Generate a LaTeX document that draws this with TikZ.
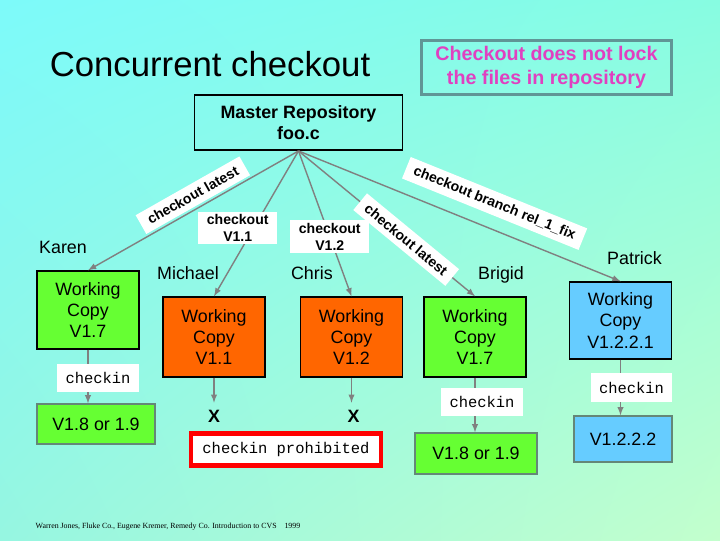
\documentclass[tikz,border=0pt]{standalone}
\usepackage{fontspec}
\setmainfont{Liberation Sans}
\setmonofont{Liberation Mono}
\newfontfamily\citefont{Liberation Serif}
\usepackage{tikz}
\usetikzlibrary{positioning,shadings}
\usetikzlibrary{arrows}
\definecolor{bgtl}{RGB}{125,250,250}
\definecolor{bgtr}{RGB}{135,252,225}
\definecolor{bgbl}{RGB}{150,246,225}
\definecolor{bgbr}{RGB}{195,255,205}
\definecolor{wcgreen}{RGB}{102,255,51}
\definecolor{wcorange}{RGB}{255,102,0}
\definecolor{wcblue}{RGB}{102,204,255}
\definecolor{notepink}{RGB}{224,64,192}
\definecolor{notegray}{RGB}{96,150,150}
\definecolor{linegray}{RGB}{128,128,128}
\definecolor{boxgray}{RGB}{100,135,120}

\begin{document}
\begin{tikzpicture}[x=0.025cm, y=-0.025cm]
\tikzstyle{wc}=[rectangle, draw=black, line width=1pt, align=center, font=\fontsize{12.7}{15.2}\selectfont, minimum width=2.55cm, minimum height=2cm, inner sep=0pt]
\tikzstyle{rev}=[rectangle, draw=boxgray, line width=1pt, font=\fontsize{12.7}{15}\selectfont, minimum height=1cm, inner sep=0pt]
\tikzstyle{connect}=[-latex, draw=linegray, line width=1pt]
\tikzstyle{lbl}=[fill=white, font=\bfseries\fontsize{10}{12}\selectfont, align=center, inner xsep=6pt, inner ysep=2pt]
\tikzstyle{slbl}=[lbl, sloped, inner ysep=4pt]
\tikzstyle{ci}=[fill=white, font=\ttfamily\fontsize{11}{12}\selectfont, inner xsep=6pt, inner ysep=6pt]
\tikzstyle{who}=[font=\fontsize{12.7}{15}\selectfont]
\tikzstyle{xmark}=[font=\bfseries\fontsize{12.7}{15}\selectfont, inner sep=0pt]
  \shade[upper left=bgtl, upper right=bgtr, lower left=bgbl, lower right=bgbr] (0,0) rectangle (720,540);
  \useasboundingbox (0,0) rectangle (720,540);

  \node[font=\fontsize{24.7}{28}\selectfont] (title) at (210,64) {Concurrent checkout};
  \node[draw=notegray, line width=1.5pt, text=notepink, align=center, font=\bfseries\fontsize{14}{17}\selectfont, minimum width=6.25cm, minimum height=1.35cm] (note) at (546.5,67.5) {Checkout does not lock\\the files in repository};
  \node[draw=black, line width=1.2pt, align=center, font=\bfseries\fontsize{12.7}{15}\selectfont, minimum width=5.2cm, minimum height=1.38cm] (master) at (298.5,122.5) {Master Repository\\foo.c};

  % working copies
  \node[wc, fill=wcgreen, minimum height=1.95cm] (karenwc) at (88,310) {Working\\Copy\\V1.7};
  \node[wc, fill=wcorange] (michaelwc) at (214,337) {Working\\Copy\\V1.1};
  \node[wc, fill=wcorange] (chriswc) at (351.5,337) {Working\\Copy\\V1.2};
  \node[wc, fill=wcgreen] (brigidwc) at (475,337) {Working\\Copy\\V1.7};
  \node[wc, fill=wcblue, minimum height=1.925cm] (patrickwc) at (620.5,320.5) {Working\\Copy\\V1.2.2.1};

  \node[who, above=3mm of karenwc, xshift=-6.25mm] (karen) {Karen};
  \node[who, above=3mm of michaelwc, xshift=-6.5mm] (michael) {Michael};
  \node[who, above=3mm of chriswc, xshift=-9.9mm] (chris) {Chris};
  \node[who, above=2mm of brigidwc, xshift=6.5mm] (brigid) {Brigid};
  \node[who, above=3mm of patrickwc, xshift=3.5mm] (patrick) {Patrick};

  % new revisions
  \node[rev, fill=wcgreen, minimum width=2.95cm] (karennew) at (96,424) {V1.8 or 1.9};
  \node[rev, fill=wcgreen, minimum width=3.05cm, minimum height=1.025cm] (brigidnew) at (476,453.5) {V1.8 or 1.9};
  \node[rev, fill=wcblue, minimum width=2.45cm, minimum height=1.15cm] (patricknew) at (623,439) {V1.2.2.2};
  \node[xmark, below=8mm of michaelwc] (michaelx) {X};
  \node[xmark, below=8mm of chriswc, xshift=0.5mm] (chrisx) {X};
  \node[draw=red, line width=3pt, fill=white, font=\ttfamily\fontsize{11}{12}\selectfont, minimum width=4.75cm, minimum height=0.8cm] (prohibited) at (286,449.5) {checkin prohibited};

  % checkouts
  \path (master.south) edge[connect] node[slbl, above=1.5pt, pos=.47] {checkout latest} (karenwc.north);
  \path (master.south) edge[connect] node[lbl, pos=.53, xshift=-4mm] {checkout\\V1.1} (michaelwc.north);
  \path (master.south) edge[connect] node[lbl, pos=.59] {checkout\\V1.2} (chriswc.north);
  \path (master.south) edge[connect] node[slbl, above=9pt, pos=.58] {checkout branch rel\_1\_fix} (patrickwc.north);
  \path (master.south) edge[connect] node[slbl, pos=.61] {checkout latest} (brigidwc.north);

  % checkins
  \path (karenwc.south) edge[connect] node[ci, pos=.53, xshift=2.5mm] {checkin} (karenwc.south |- karennew.north);
  \path (brigidwc.south) edge[connect] node[ci, pos=.45, xshift=1.75mm] {checkin} (brigidwc.south |- brigidnew.north);
  \path (patrickwc.south) edge[connect] node[ci, pos=.5, xshift=2.75mm] {checkin} (patrickwc.south |- patricknew.north);
  \path (michaelwc.south) edge[connect, shorten >=5pt] (michaelwc.south |- michaelx.north);
  \path (chriswc.south) edge[connect, shorten >=5pt] (chriswc.south |- chrisx.north);

  \node[font=\citefont\fontsize{5.6}{6}\selectfont] (cite) at (168,527) {Warren Jones, Fluke Co., Eugene Kremer, Remedy Co. Introduction to CVS\quad 1999};
\end{tikzpicture}
\end{document}
